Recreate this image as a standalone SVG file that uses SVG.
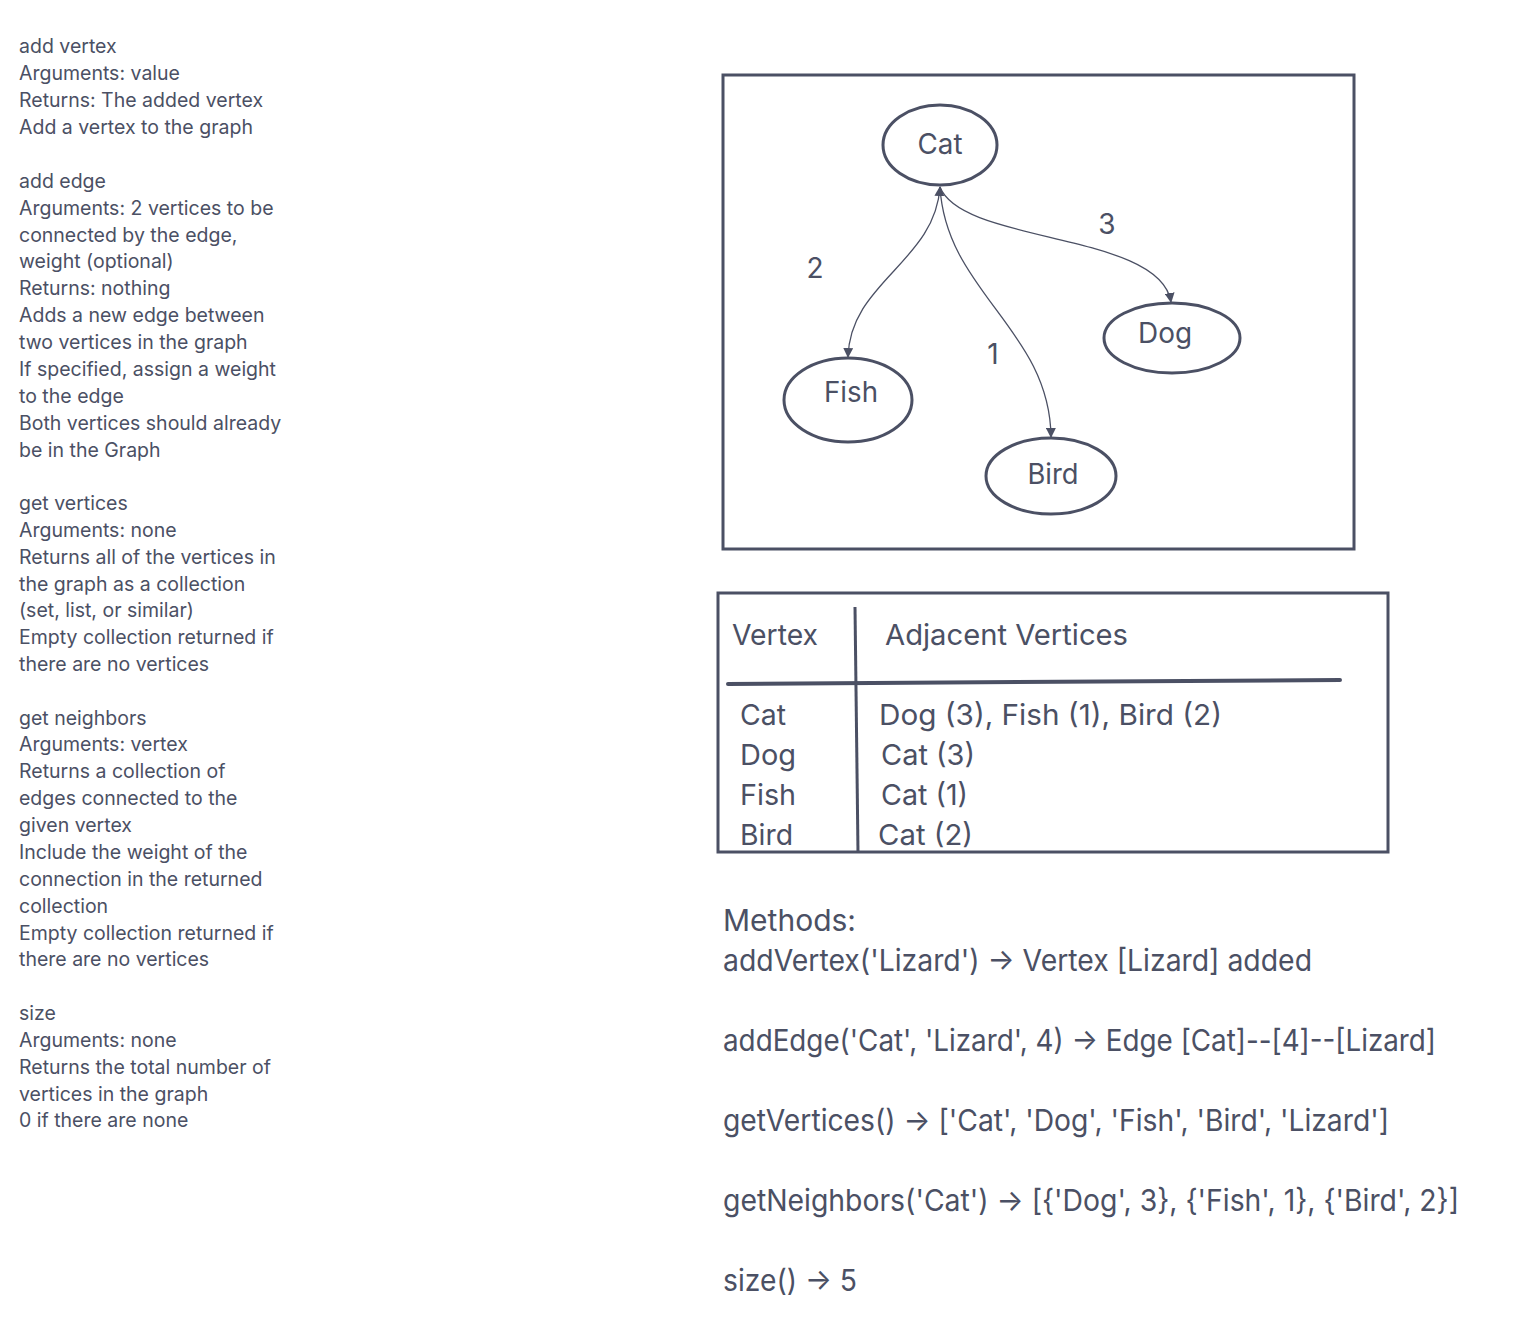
<svg xmlns="http://www.w3.org/2000/svg" width="1518" height="1334" viewBox="0 0 1518 1334">
<style>
text{font-family:Inter,"Noto Sans","Liberation Sans",sans-serif;fill:#4b5064}
.doc{font-size:19.5px}
.node{font-size:28px}
.wt{font-size:28px}
.tbl{font-size:29px}
.meth{font-size:30px}
.box{fill:none;stroke:#4b5064;stroke-width:3}
.ell{fill:#fff;stroke:#4b5064;stroke-width:3}
.edge{fill:none;stroke:#4b5064;stroke-width:1.3}
</style>
<defs>
<marker id="ah" viewBox="0 0 10 10" refX="9" refY="5" markerWidth="10" markerHeight="10" markerUnits="userSpaceOnUse" orient="auto-start-reverse">
<path d="M0,0 L10,5 L0,10 z" fill="#4b5064"/>
</marker>
</defs>
<rect width="1518" height="1334" fill="#fff"/>
<g id="doc-text" class="doc">
<text x="19" y="53">add vertex</text>
<text x="19" y="80">Arguments: value</text>
<text x="19" y="107">Returns: The added vertex</text>
<text x="19" y="134">Add a vertex to the graph</text>
<text x="19" y="188">add edge</text>
<text x="19" y="215">Arguments: 2 vertices to be</text>
<text x="19" y="242">connected by the edge,</text>
<text x="19" y="268">weight (optional)</text>
<text x="19" y="295">Returns: nothing</text>
<text x="19" y="322">Adds a new edge between</text>
<text x="19" y="349">two vertices in the graph</text>
<text x="19" y="376">If specified, assign a weight</text>
<text x="19" y="403">to the edge</text>
<text x="19" y="430">Both vertices should already</text>
<text x="19" y="457">be in the Graph</text>
<text x="19" y="510">get vertices</text>
<text x="19" y="537">Arguments: none</text>
<text x="19" y="564">Returns all of the vertices in</text>
<text x="19" y="591">the graph as a collection</text>
<text x="19" y="617">(set, list, or similar)</text>
<text x="19" y="644">Empty collection returned if</text>
<text x="19" y="671">there are no vertices</text>
<text x="19" y="725">get neighbors</text>
<text x="19" y="751">Arguments: vertex</text>
<text x="19" y="778">Returns a collection of</text>
<text x="19" y="805">edges connected to the</text>
<text x="19" y="832">given vertex</text>
<text x="19" y="859">Include the weight of the</text>
<text x="19" y="886">connection in the returned</text>
<text x="19" y="913">collection</text>
<text x="19" y="940">Empty collection returned if</text>
<text x="19" y="966">there are no vertices</text>
<text x="19" y="1020">size</text>
<text x="19" y="1047">Arguments: none</text>
<text x="19" y="1074">Returns the total number of</text>
<text x="19" y="1101">vertices in the graph</text>
<text x="19" y="1127">0 if there are none</text>
</g>
<rect id="graph-frame" class="box" x="723" y="75" width="631" height="474"/>
<g id="connectors">
<path class="edge" d="M940,187 C935,262 850,282 848,357" marker-start="url(#ah)" marker-end="url(#ah)"/>
<path class="edge" d="M940,187 C946,292 1050,330 1051,437" marker-end="url(#ah)"/>
<path class="edge" d="M940,187 C962,244 1160,232 1171,302" marker-end="url(#ah)"/>
<text class="wt" x="815" y="278" text-anchor="middle">2</text>
<text class="wt" x="1107" y="234" text-anchor="middle">3</text>
<text class="wt" x="993" y="364" text-anchor="middle">1</text>
</g>
<g id="node-cat">
<ellipse class="ell" cx="940" cy="145" rx="57" ry="40"/>
<text class="node" x="940" y="154" text-anchor="middle" textLength="45" lengthAdjust="spacingAndGlyphs">Cat</text>
</g>
<g id="node-fish">
<ellipse class="ell" cx="848" cy="400" rx="64" ry="42"/>
<text class="node" x="851" y="402" text-anchor="middle" textLength="54" lengthAdjust="spacingAndGlyphs">Fish</text>
</g>
<g id="node-bird">
<ellipse class="ell" cx="1051" cy="476" rx="65" ry="38"/>
<text class="node" x="1053" y="484" text-anchor="middle" textLength="51" lengthAdjust="spacingAndGlyphs">Bird</text>
</g>
<g id="node-dog">
<ellipse class="ell" cx="1172" cy="338" rx="68" ry="35"/>
<text class="node" x="1165" y="343" text-anchor="middle" textLength="54" lengthAdjust="spacingAndGlyphs">Dog</text>
</g>
<g id="adjacency-table" class="tbl">
<rect class="box" x="718" y="593" width="670" height="259"/>
<line x1="855" y1="607" x2="858" y2="852" stroke="#4b5064" stroke-width="3"/>
<line x1="728" y1="684" x2="1340" y2="680" stroke="#4b5064" stroke-width="4" stroke-linecap="round"/>
<text x="732" y="645" textLength="86" lengthAdjust="spacingAndGlyphs">Vertex</text>
<text x="885" y="645" textLength="243" lengthAdjust="spacingAndGlyphs">Adjacent Vertices</text>
<text x="740" y="725" textLength="46" lengthAdjust="spacingAndGlyphs">Cat</text>
<text x="740" y="765" textLength="56" lengthAdjust="spacingAndGlyphs">Dog</text>
<text x="740" y="805" textLength="56" lengthAdjust="spacingAndGlyphs">Fish</text>
<text x="740" y="845" textLength="53" lengthAdjust="spacingAndGlyphs">Bird</text>
<text x="879" y="725" textLength="343" lengthAdjust="spacingAndGlyphs">Dog (3), Fish (1), Bird (2)</text>
<text x="881" y="765" textLength="94" lengthAdjust="spacingAndGlyphs">Cat (3)</text>
<text x="881" y="805" textLength="87" lengthAdjust="spacingAndGlyphs">Cat (1)</text>
<text x="878" y="845" textLength="95" lengthAdjust="spacingAndGlyphs">Cat (2)</text>
</g>
<g id="methods" class="meth">
<text x="723" y="931" textLength="133" lengthAdjust="spacingAndGlyphs">Methods:</text>
<text x="723" y="971" textLength="589" lengthAdjust="spacingAndGlyphs">addVertex('Lizard') → Vertex [Lizard] added</text>
<text x="723" y="1051" textLength="713" lengthAdjust="spacingAndGlyphs">addEdge('Cat', 'Lizard', 4) → Edge [Cat]--[4]--[Lizard]</text>
<text x="723" y="1131" textLength="666" lengthAdjust="spacingAndGlyphs">getVertices() → ['Cat', 'Dog', 'Fish', 'Bird', 'Lizard']</text>
<text x="723" y="1211" textLength="736" lengthAdjust="spacingAndGlyphs">getNeighbors('Cat') → [{'Dog', 3}, {'Fish', 1}, {'Bird', 2}]</text>
<text x="723" y="1291" textLength="134" lengthAdjust="spacingAndGlyphs">size() → 5</text>
</g>
</svg>
